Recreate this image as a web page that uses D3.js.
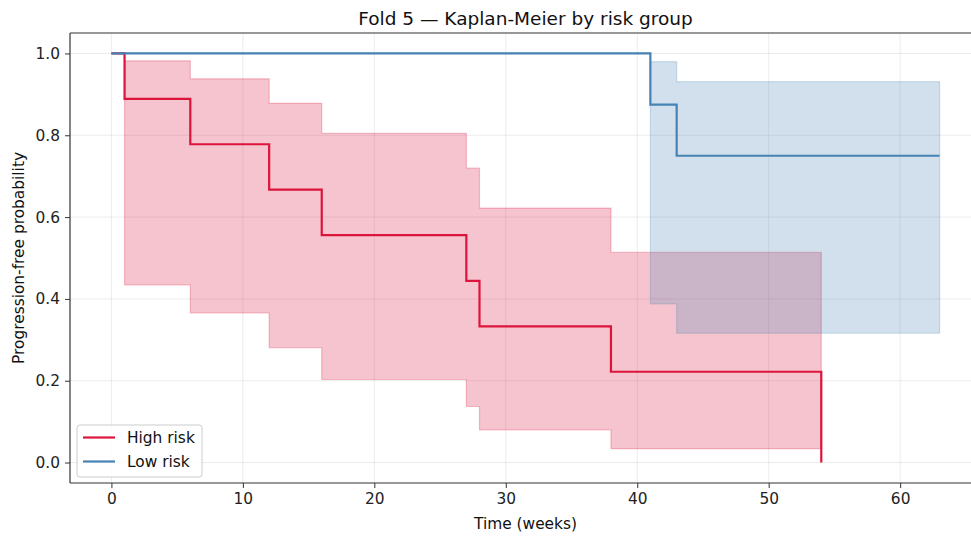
<!DOCTYPE html>
<html>
<head>
<meta charset="utf-8">
<script src="https://cdn.jsdelivr.net/npm/d3@7"></script>
<style>
  html, body { margin: 0; padding: 0; background: #fff; }
  svg { display: block; font-family: "DejaVu Sans", sans-serif; }
</style>
</head>
<body>
<svg id="chart" width="971" height="536"></svg>
<script>
// Kaplan-Meier step estimates with 95% confidence bands
const highTimes = [0, 1, 6, 12, 16, 27, 28, 38, 54];
const highSurv  = [1.0, 0.889, 0.778, 0.667, 0.556, 0.444, 0.333, 0.222, 0.0];
const highUpper = [1.0, 0.982, 0.938, 0.878, 0.805, 0.720, 0.622, 0.514, 0.514];
const highLower = [1.0, 0.434, 0.366, 0.281, 0.203, 0.137, 0.080, 0.034, 0.034];

const lowTimes = [0, 41, 43, 63];
const lowSurv  = [1.0, 0.875, 0.750, 0.750];
const lowUpper = [1.0, 0.980, 0.931, 0.931];
const lowLower = [1.0, 0.388, 0.316, 0.316];

const xTicks = [0, 10, 20, 30, 40, 50, 60];
const yTicks = [0.0, 0.2, 0.4, 0.6, 0.8, 1.0];

const groups = [
  { name: "High risk", color: "#DC143C", t: highTimes, s: highSurv, up: highUpper, lo: highLower },
  { name: "Low risk",  color: "#4682B4", t: lowTimes,  s: lowSurv,  up: lowUpper,  lo: lowLower }
];

const svg = d3.select("#chart");
const pL = 70, pT = 33, pR = 981, pB = 483;
const labelSize = 15.4;

const x = d3.scaleLinear().domain([-3.15, 66.15]).range([pL, pR]);
const y = d3.scaleLinear().domain([-0.05, 1.05]).range([pB, pT]);

svg.append("defs").append("clipPath").attr("id", "plotclip")
  .append("rect").attr("x", pL).attr("y", pT)
  .attr("width", pR - pL).attr("height", pB - pT);

// grid
const grid = svg.append("g");
grid.selectAll(".gx").data(xTicks).join("line")
  .attr("x1", d => x(d)).attr("x2", d => x(d))
  .attr("y1", pT).attr("y2", pB)
  .attr("stroke", "#b0b0b0").attr("stroke-opacity", 0.3).attr("stroke-width", 0.8);
grid.selectAll(".gy").data(yTicks).join("line")
  .attr("x1", pL).attr("x2", pR)
  .attr("y1", d => y(d)).attr("y2", d => y(d))
  .attr("stroke", "#b0b0b0").attr("stroke-opacity", 0.3).attr("stroke-width", 0.8);

const plot = svg.append("g").attr("clip-path", "url(#plotclip)");

// confidence bands
groups.forEach(g => {
  const pts = g.t.map((t, i) => ({ t, up: g.up[i], lo: g.lo[i] }));
  const area = d3.area().curve(d3.curveStepAfter)
    .x(d => x(d.t)).y0(d => y(d.lo)).y1(d => y(d.up));
  plot.append("path").datum(pts)
    .attr("d", area)
    .attr("fill", g.color).attr("fill-opacity", 0.25)
    .attr("stroke", g.color).attr("stroke-opacity", 0.25).attr("stroke-width", 1.2);
});

// survival curves (blue on top of red)
groups.forEach(g => {
  const pts = g.t.map((t, i) => ({ t, s: g.s[i] }));
  const line = d3.line().curve(d3.curveStepAfter)
    .x(d => x(d.t)).y(d => y(d.s));
  plot.append("path").datum(pts)
    .attr("d", line)
    .attr("fill", "none").attr("stroke", g.color).attr("stroke-width", 2.2);
});

// axes
const xAxis = svg.append("g").attr("transform", `translate(0,${pB})`)
  .call(d3.axisBottom(x).tickValues(xTicks).tickSize(5).tickPadding(5).tickFormat(d3.format("d")));
const yAxis = svg.append("g").attr("transform", `translate(${pL},0)`)
  .call(d3.axisLeft(y).tickValues(yTicks).tickSize(5).tickPadding(5).tickFormat(d3.format(".1f")));
[xAxis, yAxis].forEach(a => {
  a.attr("font-size", labelSize).attr("font-family", "DejaVu Sans, sans-serif");
  a.selectAll("text").attr("font-size", labelSize).attr("fill", "#222");
  a.selectAll(".tick line").attr("stroke", "#333").attr("stroke-width", 1);
  a.select(".domain").remove();
});

// spines
const spine = (x1, y1, x2, y2) => svg.append("line")
  .attr("x1", x1).attr("y1", y1).attr("x2", x2).attr("y2", y2)
  .attr("stroke", "#333").attr("stroke-width", 1.2);
spine(pL, pT, pR, pT);
spine(pL, pB, pR, pB);
spine(pL, pT, pL, pB);
spine(pR, pT, pR, pB);

// title and labels
svg.append("text").attr("x", (pL + pR) / 2).attr("y", 25)
  .attr("text-anchor", "middle").attr("font-size", 18.5).attr("fill", "#111")
  .text("Fold 5 — Kaplan-Meier by risk group");
svg.append("text").attr("x", (pL + pR) / 2).attr("y", 529)
  .attr("text-anchor", "middle").attr("font-size", labelSize).attr("fill", "#111")
  .text("Time (weeks)");
svg.append("text")
  .attr("transform", `translate(24,${(pT + pB) / 2}) rotate(-90)`)
  .attr("text-anchor", "middle").attr("font-size", labelSize).attr("fill", "#111")
  .text("Progression-free probability");

// legend
const lg = svg.append("g").attr("transform", "translate(77,425)");
lg.append("rect").attr("width", 125).attr("height", 52).attr("rx", 3)
  .attr("fill", "#fff").attr("fill-opacity", 0.8)
  .attr("stroke", "#ccc").attr("stroke-width", 1);
groups.forEach((g, i) => {
  const yy = 12.5 + i * 24;
  lg.append("line").attr("x1", 6).attr("x2", 38).attr("y1", yy).attr("y2", yy)
    .attr("stroke", g.color).attr("stroke-width", 2.2);
  lg.append("text").attr("x", 50).attr("y", yy + 5.5)
    .attr("font-size", labelSize).attr("fill", "#111").text(g.name);
});
</script>
</body>
</html>
